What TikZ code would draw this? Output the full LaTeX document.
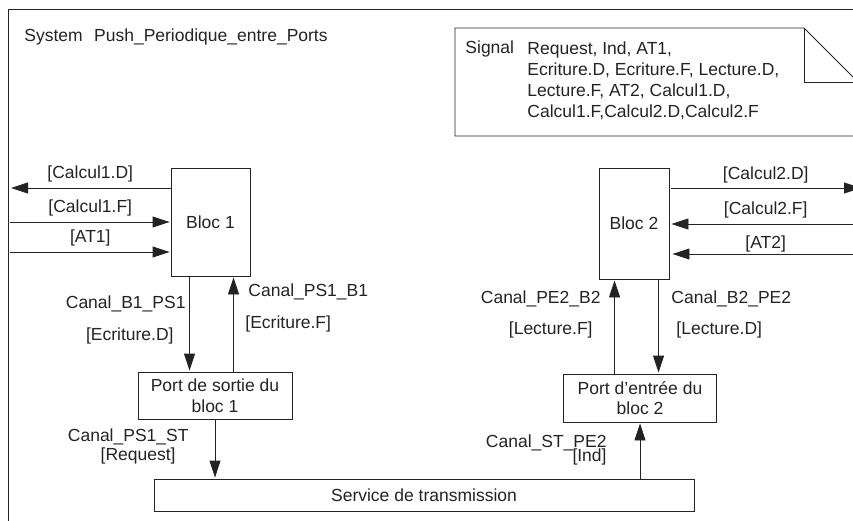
\documentclass[tikz,border=0pt]{standalone}
\usepackage{fontspec}
\setmainfont{Liberation Sans}
\usetikzlibrary{arrows.meta, positioning}
\definecolor{ink}{RGB}{35,35,35}

\tikzset{
  bloc/.style={draw=ink, inner sep=0pt, align=center},
  lbl/.style={inner sep=0pt},
}

\begin{document}
\begin{tikzpicture}[x=1pt, y=-1pt, >={Triangle[length=17pt,width=11pt]},
  shorten >=1pt, line width=0.9pt, color=ink,
  font=\fontsize{17.5}{20.5}\selectfont]

\useasboundingbox (0,0) rectangle (853,521);
\clip (0,0) rectangle (853,521);

% cadre du systeme
\draw (8,530) -- (8,9) -- (860,9);
\node[lbl, anchor=base west] (titre) at (24,42) {System\hspace{0.65em}Push\_Periodique\_entre\_Ports};

% declaration des signaux
\draw (455,28) -- (804,28) -- (858,82) -- (858,136) -- (455,136) -- cycle;
\draw (804,28) -- (804,82) -- (858,82);
\node[lbl, anchor=base west] (sig) at (465,54) {Signal};
\node[lbl, anchor=north west, align=left,
  font=\fontsize{17.5}{21}\selectfont] (sigliste) at (527,41.5)
{Request, Ind, AT1,\\
Ecriture.D, Ecriture.F, Lecture.D,\\
Lecture.F, AT2, Calcul1.D,\\
Calcul1.F,Calcul2.D,Calcul2.F};

% define the blocs and ports
\node[bloc, minimum width=79pt, minimum height=108pt] (b1) at (210.5,222) {Bloc 1};
\node[bloc, minimum width=70pt, minimum height=111pt] (b2) at (634,223.5) {Bloc 2};
\node[bloc, minimum width=154pt, minimum height=47pt] (p1) at (215,395.5)
{Port de sortie du\\bloc 1};
\node[bloc, minimum width=153pt, minimum height=48pt] (p2) at (640,398)
{Port d'entrée du\\bloc 2};
\node[bloc, minimum width=540pt, minimum height=32pt] (st) at (424,495)
{Service de transmission};

% free ends on the frame
\coordinate (w1) at (10,188);
\coordinate (w2) at (10,222);
\coordinate (w3) at (10,252);
\coordinate (e1) at (862,188);
\coordinate (e2) at (862,224);
\coordinate (e3) at (862,254);

% define the channels
\path[->] (b1.west |- w1) edge node[above=2pt] {[Calcul1.D]} (w1)
          (w2) edge node[above=2pt] {[Calcul1.F]} (b1.west |- w2)
          (w3) edge node[above=2pt] {[AT1]} (b1.west |- w3)
          (b2.east |- e1) edge[shorten <=2pt] node[above=1pt] {[Calcul2.D]} (e1)
          (e2) edge[shorten >=2pt] node[above=2pt] {[Calcul2.F]} (b2.east |- e2)
          (e3) edge[shorten >=3pt] node[above=-2pt] {[AT2]} (b2.east |- e3);

\path[->] ([xshift=19pt]b1.south west) edge ([xshift=52pt]p1.north west)
          ([xshift=96pt]p1.north west) edge ([xshift=63pt]b1.south west)
          (p1.south) edge (p1.south |- st.north)
          ([xshift=60pt]b2.south west) edge ([xshift=95.5pt]p2.north west)
          ([xshift=51.5pt]p2.north west) edge ([xshift=16pt]b2.south west)
          (p2.south |- st.north) edge (p2.south);

% channel names
\node[lbl, anchor=east] (nb1ps1) at (186,304) {Canal\_B1\_PS1};
\node[lbl, anchor=east] (sb1ps1) at (174,336) {[Ecriture.D]};
\node[lbl, anchor=west] (nps1b1) at (248,292) {Canal\_PS1\_B1};
\node[lbl, anchor=west] (sps1b1) at (245,324) {[Ecriture.F]};
\node[lbl, anchor=east] (nps1st) at (189,437) {Canal\_PS1\_ST};
\node[lbl, anchor=east] (sps1st) at (176,456) {[Request]};
\node[lbl, anchor=east] (npe2b2) at (601,299) {Canal\_PE2\_B2};
\node[lbl, anchor=east] (spe2b2) at (593,330) {[Lecture.F]};
\node[lbl, anchor=west] (nb2pe2) at (671,299) {Canal\_B2\_PE2};
\node[lbl, anchor=west] (sb2pe2) at (676,330) {[Lecture.D]};
\node[lbl, anchor=east] (nstpe2) at (607,443) {Canal\_ST\_PE2};
\node[lbl, anchor=east] (sstpe2) at (607,457) {[Ind]};

\end{tikzpicture}
\end{document}
